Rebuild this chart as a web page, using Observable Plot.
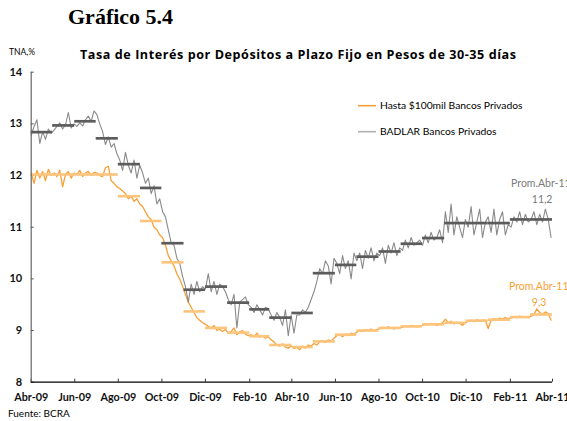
<!DOCTYPE html>
<html><head><meta charset="utf-8">
<script src="https://cdn.jsdelivr.net/npm/d3@7"></script>
<script src="https://cdn.jsdelivr.net/npm/@observablehq/plot@0.6"></script>
<style>
body{margin:0;background:#fff;}
#wrap{position:relative;width:567px;height:421px;overflow:hidden;font-family:Lato,"Open Sans",sans-serif;}
#wrap svg{position:absolute;left:0;top:0;}
</style></head><body><div id="wrap"></div>
<script>
// ---- data ----
const startDate = "2009-04-01";
const stepDays = 4;
const badlarDaily = [
 12.78,12.95,13.08,12.62,12.85,12.7,12.9,12.82,
 12.88,12.95,13.02,12.9,12.98,13.22,12.92,13.0,
 12.95,13.02,12.96,13.08,13.15,13.05,13.25,
 13.18,13.0,12.85,12.6,12.75,12.55,12.62,12.42,
 12.3,12.1,12.45,12.2,12.05,12.3,11.95,12.2,
 12.05,11.85,11.95,11.65,11.8,11.45,11.55,
 11.3,11.2,10.95,10.7,10.65,10.4,10.3,10.05,
 9.85,9.55,9.9,9.7,9.95,9.75,9.85,
 9.8,10.1,9.75,9.95,9.7,9.9,9.85,9.75,
 9.6,9.5,9.7,9.05,9.55,9.6,9.65,9.5,
 9.45,9.35,9.5,9.4,9.3,9.45,9.42,
 9.3,9.2,9.35,9.25,9.1,9.4,8.9,9.3,
 8.95,9.3,9.3,9.4,9.35,9.45,9.6,
 9.75,9.95,10.2,10.1,10.35,10.25,9.9,10.4,
 10.3,10.1,10.45,10.2,10.35,10.0,10.5,
 10.35,10.5,10.2,10.55,10.4,10.6,10.35,10.5,
 10.45,10.6,10.3,10.65,10.5,10.7,10.45,10.6,
 10.55,10.75,10.6,10.8,10.65,10.7,10.75,
 10.65,10.85,10.7,10.9,10.75,10.8,10.95,10.7,
 11.3,10.9,11.45,10.85,11.2,11.0,10.8,11.15,
 11.0,11.4,10.85,11.1,11.35,10.8,11.1,
 11.2,10.9,11.35,10.85,11.15,11.3,10.85,11.05,
 11.0,11.2,11.1,11.3,11.05,11.25,11.1,
 11.15,11.3,11.05,11.25,11.1,11.35,11.15,10.8
];
const hastaDaily = [
 12.05,11.85,12.1,11.95,12.08,11.9,12.12,12.0,
 12.05,11.98,12.1,11.78,12.02,12.08,11.95,12.05,
 12.02,12.1,11.98,12.05,12.08,12.0,12.06,
 12.05,12.0,11.98,12.15,12.18,11.9,11.85,11.78,
 11.75,11.7,11.65,11.55,11.6,11.5,11.55,11.45,
 11.4,11.3,11.2,11.15,11.0,10.95,10.85,
 10.8,10.65,10.45,10.35,10.25,10.1,10.0,9.85,
 9.7,9.55,9.45,9.35,9.25,9.2,9.15,
 9.12,9.08,9.05,9.1,9.0,9.03,8.98,9.02,
 8.95,8.98,9.05,8.92,8.97,9.0,8.93,8.9,
 8.92,8.88,8.95,8.87,8.9,8.85,8.88,
 8.82,8.78,8.72,8.7,8.74,8.68,8.66,8.7,
 8.65,8.68,8.63,8.7,8.66,8.72,8.7,
 8.75,8.72,8.78,8.8,8.77,8.82,8.8,8.85,
 8.9,8.92,8.88,8.93,8.9,8.95,8.93,
 8.97,9.0,8.98,9.02,9.0,9.03,8.99,9.02,
 9.03,9.06,9.04,9.07,9.05,9.03,9.06,9.05,
 9.06,9.09,9.07,9.1,9.08,9.07,9.09,
 9.1,9.12,9.11,9.14,9.12,9.1,9.13,9.15,
 9.22,9.15,9.18,9.13,9.16,9.14,9.1,9.15,
 9.18,9.2,9.17,9.21,9.19,9.2,9.2,
 9.04,9.2,9.23,9.21,9.24,9.22,9.25,9.23,
 9.24,9.27,9.25,9.28,9.26,9.27,9.25,
 9.28,9.3,9.42,9.35,9.32,9.36,9.33,9.2
];
const months = ["2009-04","2009-05","2009-06","2009-07","2009-08","2009-09","2009-10","2009-11","2009-12",
 "2010-01","2010-02","2010-03","2010-04","2010-05","2010-06","2010-07","2010-08","2010-09","2010-10","2010-11","2010-12",
 "2011-01","2011-02","2011-03"];
const badlarMonthly = [12.84,12.97,13.05,12.72,12.22,11.76,10.69,9.79,9.85,9.54,9.41,9.25,9.34,10.11,10.27,10.43,10.53,10.68,10.79,11.08,11.08,11.08,11.15,11.15];
const hastaMonthly = [12.02,12.02,12.02,12.02,11.6,11.12,10.32,9.37,9.05,8.96,8.89,8.72,8.68,8.79,8.92,9.0,9.05,9.08,9.12,9.15,9.19,9.21,9.26,9.31];
const tickDates = ["2009-04-01","2009-06-01","2009-08-01","2009-10-01","2009-12-01","2010-02-01","2010-04-01","2010-06-01","2010-08-01","2010-10-01","2010-12-01","2011-02-01","2011-04-01"];
const tickLabels = ["Abr-09","Jun-09","Ago-09","Oct-09","Dic-09","Feb-10","Abr-10","Jun-10","Ago-10","Oct-10","Dic-10","Feb-11","Abr-11"];
const yTicks = [8,9,10,11,12,13,14];
const seriesNames = ["Hasta $100mil Bancos Privados","BADLAR Bancos Privados"];
const annotations = [
 {date:"2011-02-02", value:11.77, text:"Prom.Abr-11", series:"badlar"},
 {date:"2011-03-03", value:11.46, text:"11,2", series:"badlar"},
 {date:"2011-01-30", value:9.79, text:"Prom.Abr-11", series:"hasta"},
 {date:"2011-03-03", value:9.48, text:"9,3", series:"hasta"}
];

// ---- build ----
const parse = d3.utcParse("%Y-%m-%d");
const t0 = parse(startDate);
const toDaily = arr => arr.map((v,i)=>({date:d3.utcDay.offset(t0,i*stepDays), value:v}));
const toMonthly = arr => arr.map((v,i)=>{const a=parse(months[i]+"-01");return {x1:a,x2:d3.utcMonth.offset(a,1),value:v};});
const badlar = toDaily(badlarDaily), hasta = toDaily(hastaDaily);
const badlarM = toMonthly(badlarMonthly), hastaM = toMonthly(hastaMonthly);
const ticks = tickDates.map(parse);
const labelMap = new Map(ticks.map((d,i)=>[+d,tickLabels[i]]));
const ann = annotations.map(a=>({...a,date:parse(a.date)}));

const ORANGE="#f8a035", LORANGE="#fdc47c", GRAY="#8a8a8a", DGRAY="#5c5c5c";
const font = "Lato, 'Open Sans', sans-serif";

const chart = Plot.plot({
  width:567, height:421,
  marginLeft:30.7, marginRight:15, marginTop:71.7, marginBottom:39.3,
  x:{type:"utc", domain:[ticks[0], ticks[ticks.length-1]]},
  y:{domain:[8,14]},
  style:{fontFamily:font, background:"transparent", overflow:"visible"},
  marks:[
    Plot.axisY(yTicks,{tickSize:0, tickPadding:9, fontWeight:"bold", fontSize:11, fill:"#111", label:null, tickFormat:d=>String(d)}),
    Plot.axisY(yTicks,{tickSize:3, dx:3, text:null, label:null, stroke:"#555"}),
    Plot.axisX(ticks,{tickSize:0, tickPadding:11, fontWeight:"bold", fontSize:10.8, fill:"#111", label:null, tickFormat:d=>labelMap.get(+d)}),
    Plot.axisX(ticks,{tickSize:3, dy:-3, text:null, label:null, stroke:"#333"}),
    Plot.line(hasta,{x:"date", y:"value", stroke:ORANGE, strokeWidth:1.3}),
    Plot.line(badlar,{x:"date", y:"value", stroke:GRAY, strokeWidth:1.1}),
    Plot.ruleY(hastaM,{x1:"x1", x2:"x2", y:"value", stroke:LORANGE, strokeWidth:2.6}),
    Plot.ruleY(badlarM,{x1:"x1", x2:"x2", y:"value", stroke:DGRAY, strokeWidth:2.7}),
    Plot.ruleX([ticks[0]],{stroke:"#666", strokeWidth:1.2}),
    Plot.ruleY([8],{stroke:"#000", strokeWidth:1.2}),
    Plot.text(ann,{x:"date", y:"value", text:"text", textAnchor:"start", lineAnchor:"bottom", fontSize:10.5,
      fill:d=>d.series==="badlar"?"#7a7a7a":ORANGE})
  ]
});
const wrap = document.getElementById("wrap");
wrap.appendChild(chart);

// overlay texts
const svg = d3.select(wrap).append("svg").attr("width",567).attr("height",421).style("pointer-events","none");
svg.append("text").attr("x",68).attr("y",24).attr("font-family","'Liberation Serif','Times New Roman',serif")
  .attr("font-weight","bold").attr("font-size",22).attr("fill","#000").text("Gráfico 5.4");
svg.append("text").attr("x",80).attr("y",59).attr("font-family","'Open Sans', Lato, sans-serif").attr("font-weight","bold")
  .attr("font-size",12.6).attr("textLength",436).attr("lengthAdjust","spacing").attr("fill","#000")
  .text("Tasa de Interés por Depósitos a Plazo Fijo en Pesos de 30-35 días");
svg.append("text").attr("x",9).attr("y",55).attr("font-family",font).attr("font-size",8.5).attr("fill","#000").text("TNA,%");
svg.append("text").attr("x",8).attr("y",417).attr("font-family",font).attr("font-size",10).attr("fill","#000").text("Fuente: BCRA");
// legend
const leg = [{name:seriesNames[0], color:ORANGE, y:105.7},{name:seriesNames[1], color:"#b0b0b0", y:131.7}];
leg.forEach(l=>{
  svg.append("line").attr("x1",358).attr("x2",376).attr("y1",l.y).attr("y2",l.y).attr("stroke",l.color).attr("stroke-width",1.6);
  svg.append("text").attr("x",380).attr("y",l.y).attr("dy","0.35em").attr("font-family",font).attr("font-size",10.3)
    .attr("fill","#000").text(l.name);
});
</script></body></html>
